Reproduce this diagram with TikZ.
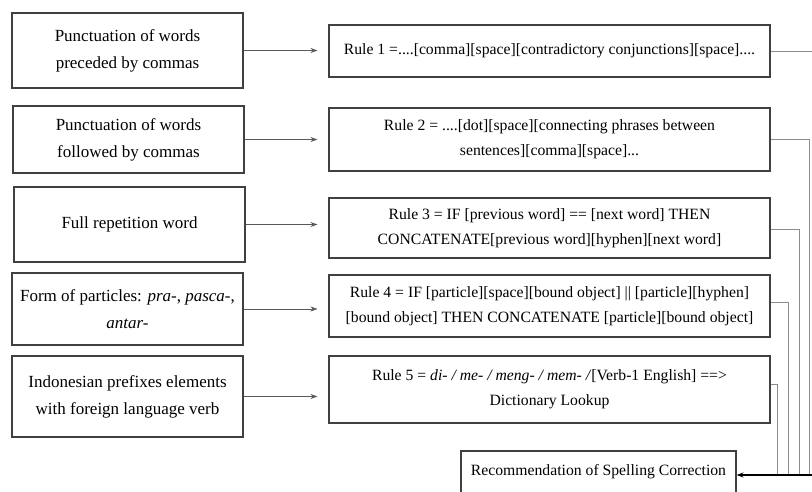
\documentclass[tikz,border=0pt]{standalone}
\usepackage{fontspec}
\setmainfont{Liberation Serif}
\usetikzlibrary{arrows.meta}
\begin{document}
\begin{tikzpicture}[x=1pt,y=-1pt,
  box/.style={draw=black!75,line width=1.1pt,rectangle,align=center,inner sep=2pt},
  srcbox/.style={box,minimum width=231pt,font=\fontsize{17}{27}\selectfont},
  rulebox/.style={box,minimum width=441pt,font=\fontsize{15.7}{25}\selectfont},
  feed/.style={draw=black!65,line width=0.6pt,-{Stealth[length=7pt,width=5pt]},shorten >=11pt},
  bus/.style={draw=black!45,line width=0.7pt},
  collect/.style={draw=black,line width=1.1pt,-{Stealth[length=7pt,width=5pt]}}]
\clip (0,0) rectangle (812,492);
\fill[white] (0,0) rectangle (812,492);

% input categories
\node[srcbox,minimum height=75pt] (L1) at (127.5,50.5) {Punctuation of words\\preceded by commas};
\node[srcbox,minimum height=67pt] (L2) at (128.5,139.5) {Punctuation of words\\followed by commas};
\node[srcbox,minimum height=75pt] (L3) at (129.5,224.5) {Full repetition word};
\node[srcbox,minimum height=72pt] (L4) at (127.5,309) {Form of particles: \textit{pra-}, \textit{pasca-},\\\textit{antar-}};
\node[srcbox,minimum height=81pt] (L5) at (127.5,396.5) {Indonesian prefixes elements\\with foreign language verb};

% rules
\node[rulebox,minimum height=52pt] (R1) at (549.5,51) {Rule 1 =....[comma][space][contradictory conjunctions][space]....};
\node[rulebox,minimum height=63pt] (R2) at (549.5,139.5) {Rule 2 = ....[dot][space][connecting phrases between\\sentences][comma][space]...};
\node[rulebox,minimum height=60pt] (R3) at (549.5,228) {Rule 3 = IF [previous word] == [next word] THEN\\CONCATENATE[previous word][hyphen][next word]};
\node[rulebox,minimum height=62pt] (R4) at (549.5,306) {Rule 4 = IF [particle][space][bound object] || [particle][hyphen]\\{}[bound object] THEN CONCATENATE [particle][bound object]};
\node[rulebox,minimum height=67pt] (R5) at (549.5,389.5) {Rule 5 = \textit{di- / me- / meng- / mem- /}[Verb-1 English] ==>\\Dictionary Lookup};

% result
\node[box,minimum width=275pt,minimum height=42pt,font=\fontsize{15.7}{25}\selectfont] (RC) at (598.5,472) {Recommendation of Spelling Correction};

% category -> rule
\foreach \i in {1,...,5}
  \draw[feed] (L\i.east) -- (L\i.east -| R\i.west);

% rules -> result
\coordinate (J) at ([yshift=-3pt]RC.east);
\coordinate (b1) at (818,475);
\coordinate (b2) at (809,475);
\coordinate (b3) at (799,475);
\coordinate (b4) at (788,475);
\coordinate (b5) at (777,475);
\draw[bus] (R1.east) -- (R1.east -| b1) -- (b1);
\draw[bus] (R2.east) -- (R2.east -| b2) -- (b2);
\draw[bus] ([yshift=-1pt]R3.east) -- ([yshift=-1pt]R3.east -| b3) -- (b3);
\draw[bus] ([yshift=4pt]R4.east) -- ([yshift=4pt]R4.east -| b4) -- (b4);
\draw[bus] ([yshift=5pt]R5.east) -- ([yshift=5pt]R5.east -| b5) -- (b5);
\draw[collect] (b1) -- (J);
\end{tikzpicture}
\end{document}
